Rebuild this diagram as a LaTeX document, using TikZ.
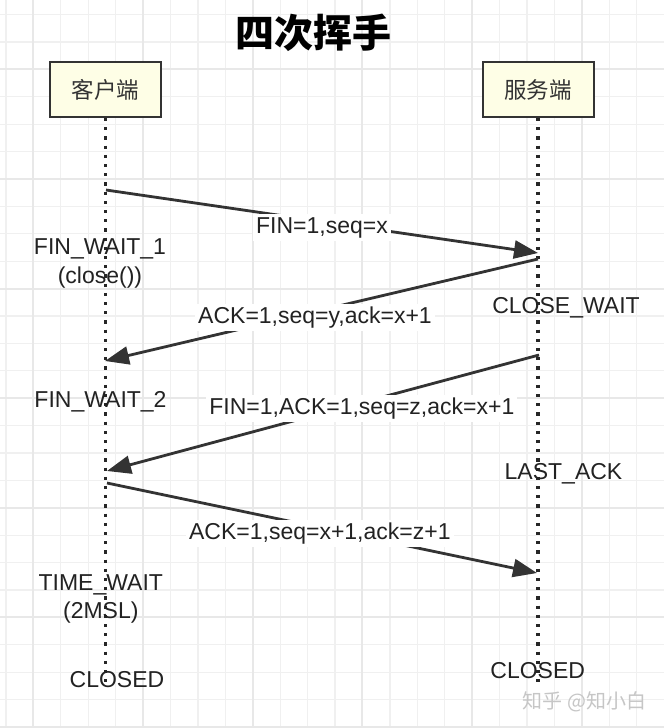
\documentclass[tikz,border=0pt]{standalone}
\usepackage{fontspec}
\setmainfont{Liberation Sans}
\newfontfamily\cjk{Noto Sans CJK SC}
\usetikzlibrary{arrows.meta}
\definecolor{ink}{HTML}{333333}
\definecolor{dots}{HTML}{262626}
\definecolor{txt}{HTML}{222222}
\definecolor{boxfill}{HTML}{FEFEE6}
\definecolor{gridminor}{HTML}{F0F0F0}
\definecolor{gridmajor}{HTML}{E8E8E8}
\tikzset{
    actor/.style={draw=ink,line width=2pt,fill=boxfill,minimum width=111pt,minimum height=55pt,
        font=\cjk\fontsize{22.5}{27}\selectfont,text=ink},
    lifeline/.style={draw=dots,line width=3.2pt,dash pattern=on 3.2pt off 6pt},
    msg/.style={draw=ink,line width=2.8pt,-{Triangle[length=24pt,width=18pt]}},
    msglabel/.style={fill=white,inner sep=3pt,yshift=-6pt,text=txt},
    state/.style={text=txt,align=center},
}

\begin{document}
\begin{tikzpicture}[x=1pt,y=-1pt,font=\fontsize{23}{29}\selectfont]
            \useasboundingbox (0,0) rectangle (664,728);
            \fill[white] (0,0) rectangle (664,728);
            \begin{scope}
                \foreach \i in {0,...,23}
                    \draw[gridminor,line width=1.2pt] ({5.9+27.43*\i},0) -- ++(0,728);
                \foreach \j in {0,...,26}
                    \draw[gridminor,line width=1.2pt] (0,{14.5+27.4*\j}) -- ++(664,0);
                \foreach \k in {0,...,5}
                    \draw[gridmajor,line width=2pt] ({33.3+109.72*\k},0) -- ++(0,728);
                \foreach \k in {0,...,6}
                    \draw[gridmajor,line width=2pt] (0,{69.3+109.6*\k}) -- ++(664,0);
            \end{scope}

            \node[font=\cjk\bfseries\fontsize{39}{45}\selectfont,text=black] (title) at (313.5,32.5) {四次挥手};

            \node[actor] (client) at (105.5,89.5) {客户端};
            \node[actor] (server) at (538,89.5) {服务端};
            \coordinate (clientend) at (105.5,686);
            \coordinate (serverend) at (538,686);
            \draw[lifeline] (client.south) -- (clientend);
            \draw[lifeline] (server.south) -- (serverend);

            \coordinate (c1) at (106,190);  \coordinate (s1) at (538,253);
            \coordinate (s2) at (538,259);  \coordinate (c2) at (105,361);
            \coordinate (s3) at (539,355);  \coordinate (c3) at (107,471);
            \coordinate (c4) at (107,483);  \coordinate (s4) at (537,573);

            \draw[msg] (c1) -- (s1) node[msglabel,pos=.5] {FIN=1,seq=x};
            \draw[msg] (s2) -- (c2) node[msglabel,pos=.515] {ACK=1,seq=y,ack=x+1};
            \draw[msg] (s3) -- (c3) node[msglabel,pos=.41] {FIN=1,ACK=1,seq=z,ack=x+1};
            \draw[msg] (c4) -- (s4) node[msglabel,pos=.495] {ACK=1,seq=x+1,ack=z+1};

            \node[state] (finwait1) at (100,263.7) {FIN\_WAIT\_1\\(close())};
            \node[state] (closewait) at (566,308) {CLOSE\_WAIT};
            \node[state] (finwait2) at (100.5,401.5) {FIN\_WAIT\_2};
            \node[state] (lastack) at (563.5,474) {LAST\_ACK};
            \node[state,font=\fontsize{23}{28}\selectfont] (timewait) at (100.8,599) {TIME\_WAIT\\(2MSL)};
            \node[state] (clientclosed) at (117,679.5) {CLOSED};
            \node[state] (serverclosed) at (537.7,670.5) {CLOSED};

            \node[font=\cjk\fontsize{20}{24}\selectfont,text=gray!45] (mark) at (584.5,701.5) {知乎 @知小白};
        \end{tikzpicture}
\end{document}
